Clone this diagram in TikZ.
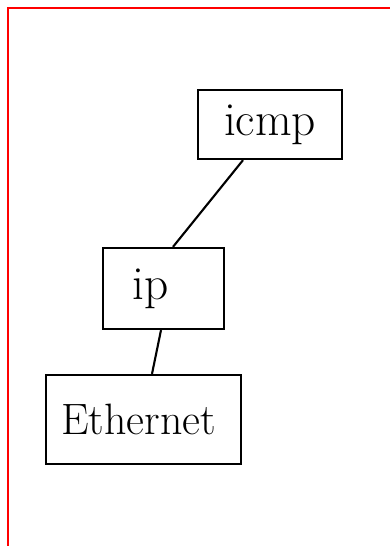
\documentclass[tikz,border=0pt]{standalone}
\usepackage{tikz}
\usetikzlibrary{positioning}

\begin{document}
\begin{tikzpicture}[
  x=0.02cm, y=-0.02cm,
  layer/.style={rectangle, draw=black, line width=1.3pt, fill=white, inner sep=0pt,
                align=center, font=\fontsize{27}{29}\selectfont},
  link/.style={line width=1.2pt, black},
  frame/.style={line width=1.3pt, red}
]
  \useasboundingbox (0,0) rectangle (390,546);
  \draw[frame] (8,546) -- (8,8) -- (390,8);

  \node[layer, minimum width=2.88cm, minimum height=1.38cm] (icmp) at (270,124.5) {icmp};
  \node[layer, minimum width=2.42cm, minimum height=1.62cm] (ip) at (163.5,288.5) {\hspace*{-0.5cm}ip};
  \node[layer, minimum width=3.9cm, minimum height=1.78cm, font=\fontsize{25}{27}\selectfont] (ethernet) at (143.5,419.5) {Ethernet\hspace*{0.2cm}};

  \draw[link] ([xshift=-0.54cm]icmp.south) -- ([xshift=0.19cm]ip.north);
  \draw[link] ([xshift=-0.05cm]ip.south) -- ([xshift=0.17cm]ethernet.north);
\end{tikzpicture}
\end{document}
